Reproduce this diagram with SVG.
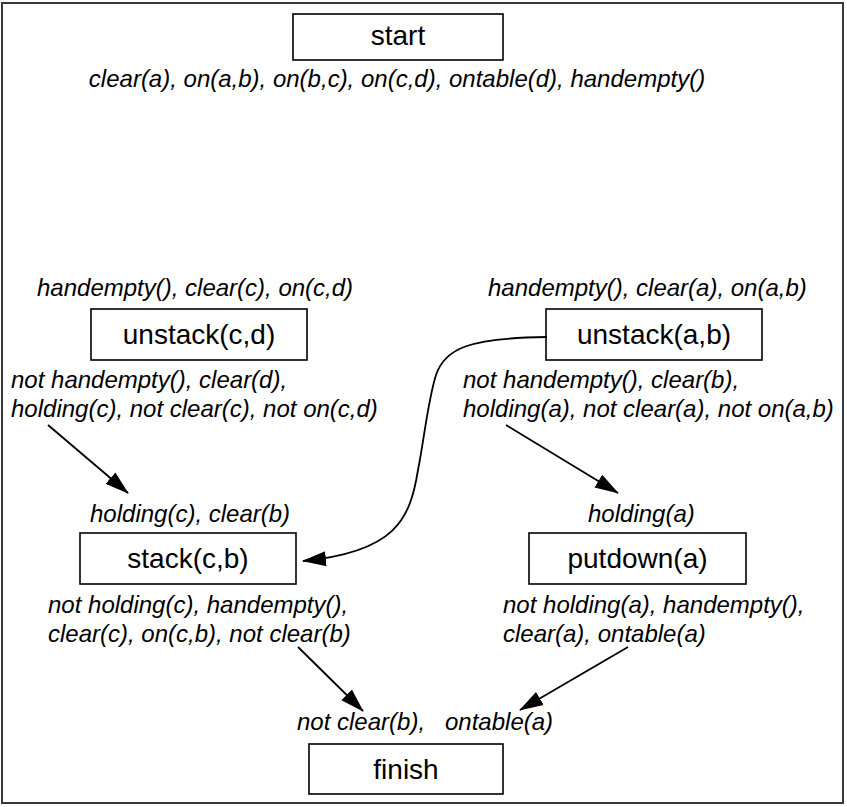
<svg xmlns="http://www.w3.org/2000/svg" width="847" height="807" viewBox="0 0 847 807">
  <style>
    .frame { fill: #ffffff; stroke: #3a3a3a; stroke-width: 2; }
    .box { fill: #ffffff; stroke: #000000; stroke-width: 1.6; }
    .name { font-family: "Liberation Sans", Arial, Helvetica, sans-serif; font-size: 28px; fill: #000000; text-anchor: middle; }
    .cond { font-family: "Liberation Sans", Arial, Helvetica, sans-serif; font-size: 24px; font-style: italic; fill: #000000; }
    .mid { text-anchor: middle; }
    .edge { fill: none; stroke: #000000; stroke-width: 1.8; marker-end: url(#head); }
  </style>
  <defs>
    <marker id="head" markerUnits="userSpaceOnUse" markerWidth="24" markerHeight="16" viewBox="0 0 24 16" refX="23" refY="8" orient="auto">
      <path d="M0,0.5 L24,8 L0,15.5 Z" fill="#000000"/>
    </marker>
  </defs>

  <rect class="frame" x="2" y="3" width="841" height="800"/>

  <g id="start">
    <rect class="box" x="293" y="14" width="210" height="46"/>
    <text class="name" x="398" y="45">start</text>
    <text class="cond mid" x="397" y="87">clear(a), on(a,b), on(b,c), on(c,d), ontable(d), handempty()</text>
  </g>

  <g id="unstack-c-d">
    <text class="cond" x="37" y="296">handempty(), clear(c), on(c,d)</text>
    <rect class="box" x="91" y="309" width="216" height="51"/>
    <text class="name" x="199" y="344">unstack(c,d)</text>
    <text class="cond" x="11" y="388">not handempty(), clear(d),</text>
    <text class="cond" x="11" y="417">holding(c), not clear(c), not on(c,d)</text>
  </g>

  <g id="unstack-a-b">
    <text class="cond" x="488" y="296">handempty(), clear(a), on(a,b)</text>
    <rect class="box" x="546" y="309" width="216" height="51"/>
    <text class="name" x="654" y="344">unstack(a,b)</text>
    <text class="cond" x="463" y="388">not handempty(), clear(b),</text>
    <text class="cond" x="463" y="417">holding(a), not clear(a), not on(a,b)</text>
  </g>

  <g id="stack-c-b">
    <text class="cond" x="90" y="522">holding(c), clear(b)</text>
    <rect class="box" x="80" y="533" width="216" height="51"/>
    <text class="name" x="188" y="568">stack(c,b)</text>
    <text class="cond" x="48" y="613">not holding(c), handempty(),</text>
    <text class="cond" x="48" y="642">clear(c), on(c,b), not clear(b)</text>
  </g>

  <g id="putdown-a">
    <text class="cond" x="588" y="522">holding(a)</text>
    <rect class="box" x="529" y="533" width="217" height="51"/>
    <text class="name" x="637.5" y="568">putdown(a)</text>
    <text class="cond" x="503" y="613">not holding(a), handempty(),</text>
    <text class="cond" x="503" y="642">clear(a), ontable(a)</text>
  </g>

  <g id="finish">
    <text class="cond" x="297" y="730">not clear(b),</text>
    <text class="cond" x="445" y="730">ontable(a)</text>
    <rect class="box" x="309" y="744" width="194" height="50"/>
    <text class="name" x="406" y="779">finish</text>
  </g>

  <g id="connectors">
    <path class="edge" d="M48,425 L128,493"/>
    <path class="edge" d="M506,425 L618,493"/>
    <path class="edge" d="M298,647 L363,711"/>
    <path class="edge" d="M628,647 L520,710"/>
    <path class="edge" d="M547,337 C470,338 445,348 436,375 C428,400 424,440 418,470 C410,520 395,552 303,561"/>
  </g>
</svg>
